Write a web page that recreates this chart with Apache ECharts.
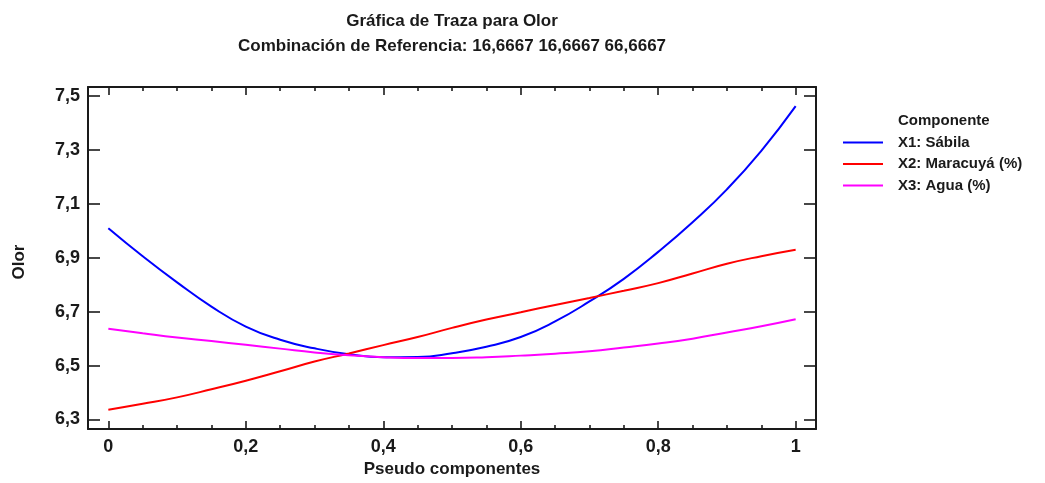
<!DOCTYPE html>
<html>
<head>
<meta charset="utf-8">
<script src="https://cdn.jsdelivr.net/npm/echarts@6/dist/echarts.min.js"></script>
<style>
  html, body { margin: 0; padding: 0; background: #fff; }
  #chart { width: 1045px; height: 483px; }
</style>
</head>
<body>
<div id="chart"></div>
<script>
// Pseudo-component proportion along each trace
const proportions = [0, 0.05, 0.1, 0.15, 0.2, 0.25, 0.3, 0.35, 0.4, 0.45, 0.5,
                     0.55, 0.6, 0.65, 0.7, 0.75, 0.8, 0.85, 0.9, 0.95, 1];

// Predicted "Olor" response for each component trace
const sabila = [7.010, 6.906, 6.809, 6.719, 6.645, 6.596, 6.564, 6.542, 6.531, 6.532, 6.546,
                6.570, 6.606, 6.664, 6.738, 6.822, 6.922, 7.032, 7.154, 7.297, 7.463];
const maracuya = [6.336, 6.358, 6.382, 6.412, 6.444, 6.479, 6.515, 6.545, 6.576, 6.606, 6.640,
                  6.671, 6.698, 6.725, 6.751, 6.778, 6.806, 6.842, 6.878, 6.906, 6.930];
const agua = [6.637, 6.620, 6.604, 6.591, 6.577, 6.563, 6.549, 6.538, 6.531, 6.528, 6.528,
              6.531, 6.537, 6.544, 6.553, 6.567, 6.582, 6.600, 6.623, 6.646, 6.672];

// Axis ticks
const xTicks = [0, 0.2, 0.4, 0.6, 0.8, 1];
const xMinorTicks = [0.05, 0.1, 0.15, 0.25, 0.3, 0.35, 0.45, 0.5, 0.55, 0.65, 0.7, 0.75, 0.85, 0.9, 0.95];
const yTicks = [6.3, 6.5, 6.7, 6.9, 7.1, 7.3, 7.5];

const seriesNames = ['X1: Sábila', 'X2: Maracuyá (%)', 'X3: Agua (%)'];
const seriesColors = ['#0000ff', '#ff0000', '#ff00ff'];
const seriesValues = [sabila, maracuya, agua];

const titleLines = ['Gráfica de Traza para Olor', 'Combinación de Referencia: 16,6667 16,6667 66,6667'];
const legendTitle = 'Componente';
const xName = 'Pseudo componentes';
const yName = 'Olor';

const FONT = '"Liberation Sans", Arial, sans-serif';
const INK = '#1a1a1a';

// The plot frame runs a little past the first and last ticks on every side
const xRange = [-0.0296, 1.0296];
const yRange = [6.2643, 7.534];

const fmt = v => String(Math.round(v * 10) / 10).replace('.', ',');

const chart = echarts.init(document.getElementById('chart'), null, { renderer: 'canvas' });

const tickStyle = { color: INK, width: 1.6 };
const frameLine = { show: true, onZero: false, lineStyle: { color: INK, width: 2 } };
const noLine = { show: false, onZero: false };

function xAxisDef(position, values, len, withLine, withLabels) {
  return {
    type: 'value', min: xRange[0], max: xRange[1], position: position,
    axisLine: withLine ? frameLine : noLine,
    splitLine: { show: false },
    axisTick: { show: true, inside: true, length: len, customValues: values, lineStyle: tickStyle },
    axisLabel: withLabels ? {
      show: true, margin: 9, customValues: values, formatter: fmt,
      fontFamily: FONT, fontWeight: 'bold', fontSize: 18, color: INK
    } : { show: false }
  };
}
function yAxisDef(position, withLabels) {
  return {
    type: 'value', min: yRange[0], max: yRange[1], position: position,
    axisLine: frameLine,
    splitLine: { show: false },
    axisTick: { show: true, inside: true, length: 12, customValues: yTicks, lineStyle: tickStyle },
    axisLabel: withLabels ? {
      show: true, margin: 8, customValues: yTicks, formatter: fmt, padding: [8, 0, 0, 0],
      fontFamily: FONT, fontWeight: 'bold', fontSize: 18, color: INK
    } : { show: false }
  };
}

const xMain = xAxisDef('bottom', xTicks, 8, true, true);
xMain.name = xName;
xMain.nameLocation = 'middle';
xMain.nameGap = 31;
xMain.nameTextStyle = { fontFamily: FONT, fontWeight: 'bold', fontSize: 17, color: INK };

const yMain = yAxisDef('left', true);
yMain.name = yName;
yMain.nameLocation = 'middle';
yMain.nameGap = 60;
yMain.nameRotate = 90;
yMain.nameTextStyle = { fontFamily: FONT, fontWeight: 'bold', fontSize: 17, color: INK,
                        padding: [0, 8, 0, 0] };

chart.setOption({
  animation: false,
  backgroundColor: '#fff',
  grid: { left: 88, right: 229, top: 87, bottom: 51 },
  legend: {
    orient: 'vertical',
    left: 838, top: 127,
    icon: 'rect', itemWidth: 40, itemHeight: 2, itemGap: 0.5,
    data: seriesNames,
    textStyle: { fontFamily: FONT, fontWeight: 'bold', fontSize: 15, color: INK,
                 lineHeight: 21, padding: [0, 0, 0, 10] }
  },
  xAxis: [
    xMain,
    xAxisDef('bottom', xMinorTicks, 4, false, false),
    xAxisDef('top', xTicks, 8, true, false),
    xAxisDef('top', xMinorTicks, 4, false, false)
  ],
  yAxis: [
    yMain,
    yAxisDef('right', false)
  ],
  graphic: [
    {
      type: 'text', z: 10, x: 452, y: 21,
      style: { text: titleLines[0], textAlign: 'center', textVerticalAlign: 'middle',
               font: 'bold 17px ' + FONT, fill: INK }
    },
    {
      type: 'text', z: 10, x: 452, y: 46,
      style: { text: titleLines[1], textAlign: 'center', textVerticalAlign: 'middle',
               font: 'bold 17px ' + FONT, fill: INK }
    },
    {
      type: 'text', z: 10, x: 898, y: 121,
      style: { text: legendTitle, textAlign: 'left', textVerticalAlign: 'middle',
               font: 'bold 15px ' + FONT, fill: INK }
    }
  ],
  series: seriesValues.map((vals, i) => ({
    name: seriesNames[i],
    type: 'line',
    xAxisIndex: 0, yAxisIndex: 0,
    data: proportions.map((p, j) => [p, vals[j]]),
    smooth: true,
    showSymbol: false,
    symbol: 'none',
    color: seriesColors[i],
    lineStyle: { color: seriesColors[i], width: 2 },
    itemStyle: { color: seriesColors[i] }
  }))
});
</script>
</body>
</html>
